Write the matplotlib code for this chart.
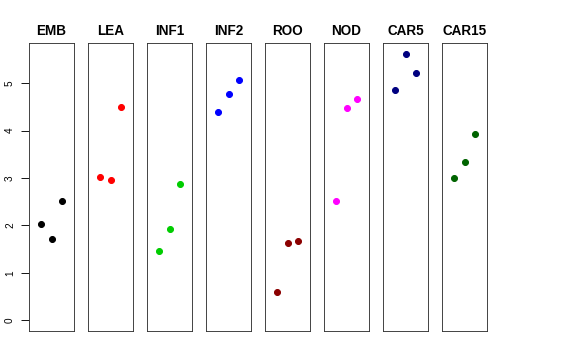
import numpy as np
import matplotlib
matplotlib.use("Agg")
import matplotlib.pyplot as plt

plt.rcParams["font.family"] = ["Liberation Sans", "DejaVu Sans"]

# data
groups = ["EMB", "LEA", "INF1", "INF2", "ROO", "NOD", "CAR5", "CAR15"]
colours = ["black", "#FF0000", "#00CD00", "#0000FF", "#8B0000", "#FF00FF", "#000080", "#006400"]
emb = [2.03, 1.72, 2.52]
lea = [3.02, 2.96, 4.50]
inf1 = [1.46, 1.93, 2.87]
inf2 = [4.39, 4.77, 5.06]
roo = [0.60, 1.62, 1.68]
nod = [2.51, 4.48, 4.67]
car5 = [4.85, 5.62, 5.21]
car15 = [2.99, 3.33, 3.92]
values = [emb, lea, inf1, inf2, roo, nod, car5, car15]
y_ticks = [0, 1, 2, 3, 4, 5]

W, H = 576, 360
fig = plt.figure(figsize=(W / 72, H / 72), dpi=72)

ymax = max(max(v) for v in values)
pad = 0.04 * ymax
left0, width, pitch = 29, 45, 59
top, bottom = 43, 331

for i, (name, col, vals) in enumerate(zip(groups, colours, values)):
    ax = fig.add_axes([(left0 + i * pitch) / W, (H - bottom) / H,
                       width / W, (bottom - top) / H])
    x = np.arange(1, len(vals) + 1)
    ax.plot(x, vals, "o", color=col, ms=6, mec=col)
    ax.set_xlim(-0.16, 4.16)
    ax.set_ylim(0 - pad, ymax + pad)
    ax.set_xticks([])
    ax.set_title(name, fontsize=13.5, fontweight="bold", pad=8)
    for s in ax.spines.values():
        s.set_linewidth(0.9)
        s.set_color("#333333")
    if i == 0:
        ax.set_yticks(y_ticks)
        ax.set_yticklabels([str(t) for t in y_ticks], rotation=90, va="center", fontsize=10)
        ax.tick_params(axis="y", length=8, width=0.9, pad=6)
    else:
        ax.set_yticks([])

fig.savefig("out.png", dpi=72)
